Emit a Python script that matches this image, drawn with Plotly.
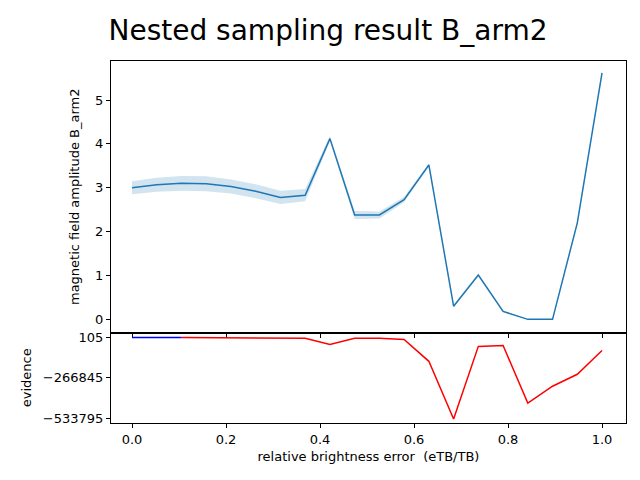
import plotly.graph_objects as go
from plotly.subplots import make_subplots

# relative brightness error values
x = [0.0, 0.0526, 0.1053, 0.1579, 0.2105, 0.2632, 0.3158, 0.3684, 0.4211, 0.4737,
     0.5263, 0.5789, 0.6316, 0.6842, 0.7368, 0.7895, 0.8421, 0.8947, 0.9474, 1.0]
b_arm2 = [3.0, 3.07, 3.1, 3.09, 3.03, 2.92, 2.78, 2.83, 4.12, 2.38,
          2.38, 2.73, 3.52, 0.3, 1.01, 0.18, 0.0, 0.0, 2.2, 5.62]
b_err = [0.15, 0.16, 0.17, 0.17, 0.16, 0.16, 0.15, 0.14, 0.06, 0.09,
         0.08, 0.06, 0.03, 0.03, 0.03, 0.02, 0.01, 0.01, 0.03, 0.03]
evidence = [105, 105, 105, -500, -1000, -1500, -2500, -5000, -46000, -5000,
            -5000, -13000, -158000, -540000, -59000, -53000, -435000, -323000, -244000, -86000]
ev_ticks = [105, -266845, -533795]
n_blue = 3

lower = [v - e for v, e in zip(b_arm2, b_err)]
upper = [v + e for v, e in zip(b_arm2, b_err)]

fig = make_subplots(rows=2, cols=1, shared_xaxes=True, vertical_spacing=0,
                    row_heights=[0.75, 0.25])

fig.add_trace(go.Scatter(x=x, y=upper, mode='lines', line=dict(width=0), showlegend=False), row=1, col=1)
fig.add_trace(go.Scatter(x=x, y=lower, mode='lines', line=dict(width=0), fill='tonexty',
                         fillcolor='rgba(31,119,180,0.2)', showlegend=False), row=1, col=1)
fig.add_trace(go.Scatter(x=x, y=b_arm2, mode='lines', line=dict(color='#1f77b4', width=1.5),
                         showlegend=False), row=1, col=1)

fig.add_trace(go.Scatter(x=x[n_blue - 1:], y=evidence[n_blue - 1:], mode='lines',
                         line=dict(color='red', width=1.5), showlegend=False), row=2, col=1)
fig.add_trace(go.Scatter(x=x[:n_blue], y=evidence[:n_blue], mode='lines',
                         line=dict(color='blue', width=1.5), showlegend=False), row=2, col=1)

axis_style = dict(showline=True, linecolor='black', linewidth=1, mirror=True, ticks='outside',
                  ticklen=4, tickcolor='black', showgrid=False, zeroline=False,
                  tickfont=dict(size=13, color='black'))

fig.update_xaxes(**axis_style, range=[-0.0447, 1.051])
fig.update_xaxes(tickvals=[0, 0.2, 0.4, 0.6, 0.8, 1.0], ticktext=['0.0', '0.2', '0.4', '0.6', '0.8', '1.0'],
                 title=dict(text='relative brightness error  (eTB/TB)', font=dict(size=13, color='black'),
                            standoff=6), row=2, col=1)
fig.update_yaxes(**axis_style)
fig.update_yaxes(range=[-0.3, 5.89], tickvals=[0, 1, 2, 3, 4, 5],
                 title=dict(text='magnetic field amplitude B_arm2', font=dict(size=13, color='black'),
                            standoff=12), row=1, col=1)
fig.update_yaxes(range=[-566700, 33000], tickvals=ev_ticks,
                 ticktext=['105', '\u2212266845', '\u2212533795'],
                 title=dict(text='evidence', font=dict(size=13, color='black'), standoff=8), row=2, col=1)

fig.update_layout(
    width=640, height=480,
    paper_bgcolor='white', plot_bgcolor='white',
    margin=dict(l=103, r=22, t=53, b=65),
    font=dict(family='DejaVu Sans'),
    title=dict(text='Nested sampling result B_arm2', x=0.5, xanchor='center', y=0.975, yanchor='top',
               font=dict(size=28, color='black')),
)

fig.write_html("out.html")
